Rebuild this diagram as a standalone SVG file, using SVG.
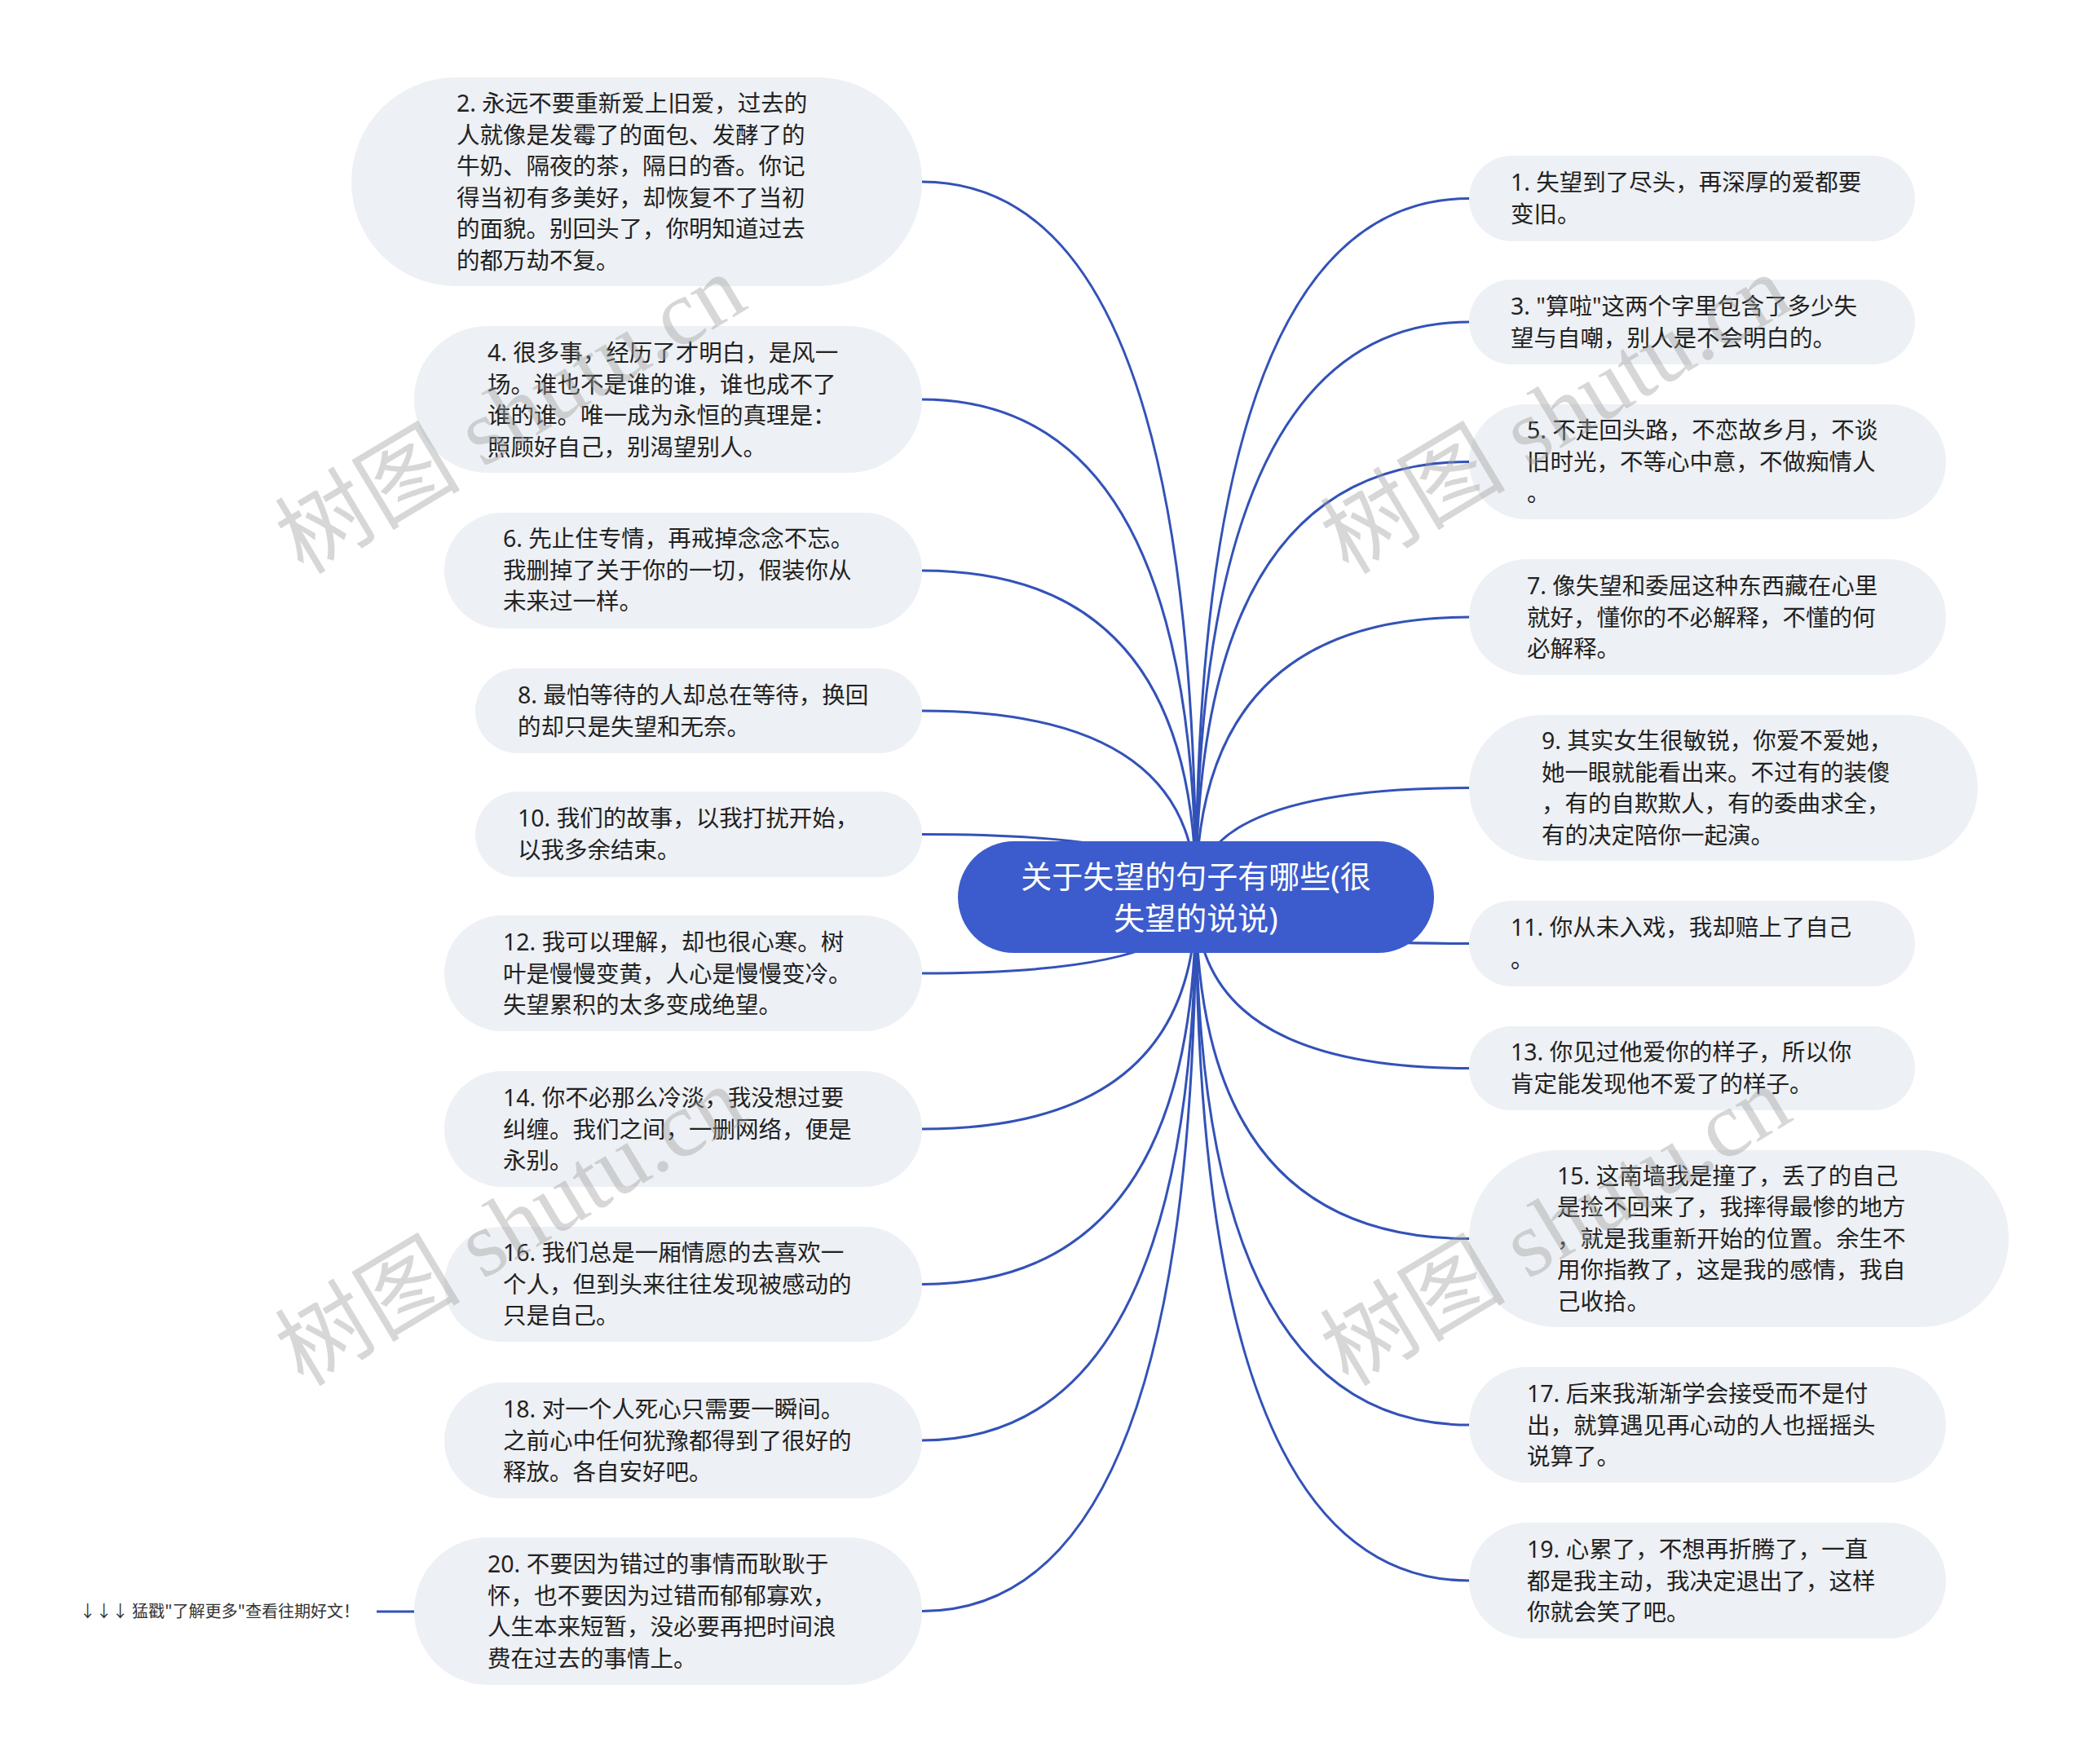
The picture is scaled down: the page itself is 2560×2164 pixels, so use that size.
<svg xmlns="http://www.w3.org/2000/svg" width="2560" height="2164" viewBox="0 0 2560 2164">
<style>
.bg{fill:#ffffff}
.node rect{fill:#edf0f4}
.node text{font-family:"Noto Sans","Noto Sans CJK SC",sans-serif;font-size:28.5px;fill:#222222}
.conn path,.conn line{fill:none;stroke:#3352b8;stroke-width:3}
.root rect{fill:#3c5ccd}
.root text{font-family:"Noto Sans","Noto Sans CJK SC",sans-serif;font-size:38px;fill:#ffffff;text-anchor:middle}
.tip{font-family:"Noto Sans CJK SC",sans-serif;font-size:20px;fill:#333333;text-anchor:end}
.wm{font-family:"Liberation Serif","Noto Sans CJK SC",serif;font-size:114px;fill:#9a9a9a;fill-opacity:0.4}
</style>
<rect class="bg" x="0" y="0" width="2560" height="2164"/>
<g id="connectors" class="conn">
<path d="M1131 223 Q1467 223 1467 1100"/>
<path d="M1131 490 Q1467 490 1467 1100"/>
<path d="M1131 700 Q1467 700 1467 1100"/>
<path d="M1131 872 Q1467 872 1467 1100"/>
<path d="M1131 1023.5 Q1467 1023.5 1467 1100"/>
<path d="M1131 1194 Q1467 1194 1467 1100"/>
<path d="M1131 1385 Q1467 1385 1467 1100"/>
<path d="M1131 1575.5 Q1467 1575.5 1467 1100"/>
<path d="M1131 1767 Q1467 1767 1467 1100"/>
<path d="M1131 1976.5 Q1467 1976.5 1467 1100"/>
<path d="M1802 243.5 Q1467 243.5 1467 1100"/>
<path d="M1802 395 Q1467 395 1467 1100"/>
<path d="M1802 566.5 Q1467 566.5 1467 1100"/>
<path d="M1802 757 Q1467 757 1467 1100"/>
<path d="M1802 966.5 Q1467 966.5 1467 1100"/>
<path d="M1802 1157.5 Q1467 1157.5 1467 1100"/>
<path d="M1802 1310.5 Q1467 1310.5 1467 1100"/>
<path d="M1802 1519.5 Q1467 1519.5 1467 1100"/>
<path d="M1802 1748 Q1467 1748 1467 1100"/>
<path d="M1802 1939 Q1467 1939 1467 1100"/>
<line x1="462" y1="1977" x2="508" y2="1977"/>
</g>
<g id="root" class="root">
<rect x="1175" y="1032" width="584" height="137" rx="68.5"/>
<text x="1467" y="1089">关于失望的句子有哪些(很</text>
<text x="1467" y="1140">失望的说说)</text>
</g>
<g id="n2" class="node"><rect x="431" y="95" width="700" height="256" rx="128"/>
<text x="560" y="137">2. 永远不要重新爱上旧爱，过去的</text>
<text x="560" y="175.5">人就像是发霉了的面包、发酵了的</text>
<text x="560" y="214">牛奶、隔夜的茶，隔日的香。你记</text>
<text x="560" y="252.5">得当初有多美好，却恢复不了当初</text>
<text x="560" y="291">的面貌。别回头了，你明知道过去</text>
<text x="560" y="329.5">的都万劫不复。</text></g>
<g id="n4" class="node"><rect x="508" y="400" width="623" height="180" rx="90"/>
<text x="598" y="443">4. 很多事，经历了才明白，是风一</text>
<text x="598" y="481.5">场。谁也不是谁的谁，谁也成不了</text>
<text x="598" y="520">谁的谁。唯一成为永恒的真理是：</text>
<text x="598" y="558.5">照顾好自己，别渴望别人。</text></g>
<g id="n6" class="node"><rect x="545" y="629" width="586" height="142" rx="71"/>
<text x="617" y="671">6. 先止住专情，再戒掉念念不忘。</text>
<text x="617" y="709.5">我删掉了关于你的一切，假装你从</text>
<text x="617" y="748">未来过一样。</text></g>
<g id="n8" class="node"><rect x="583" y="820" width="548" height="104" rx="52"/>
<text x="635" y="863">8. 最怕等待的人却总在等待，换回</text>
<text x="635" y="901.5">的却只是失望和无奈。</text></g>
<g id="n10" class="node"><rect x="583" y="971" width="548" height="105" rx="52.5"/>
<text x="635" y="1014">10. 我们的故事，以我打扰开始，</text>
<text x="635" y="1052.5">以我多余结束。</text></g>
<g id="n12" class="node"><rect x="545" y="1123" width="586" height="142" rx="71"/>
<text x="617" y="1166">12. 我可以理解，却也很心寒。树</text>
<text x="617" y="1204.5">叶是慢慢变黄，人心是慢慢变冷。</text>
<text x="617" y="1243">失望累积的太多变成绝望。</text></g>
<g id="n14" class="node"><rect x="545" y="1314" width="586" height="142" rx="71"/>
<text x="617" y="1357">14. 你不必那么冷淡，我没想过要</text>
<text x="617" y="1395.5">纠缠。我们之间，一删网络，便是</text>
<text x="617" y="1434">永别。</text></g>
<g id="n16" class="node"><rect x="545" y="1505" width="586" height="141" rx="70.5"/>
<text x="617" y="1547">16. 我们总是一厢情愿的去喜欢一</text>
<text x="617" y="1585.5">个人，但到头来往往发现被感动的</text>
<text x="617" y="1624">只是自己。</text></g>
<g id="n18" class="node"><rect x="545" y="1696" width="586" height="142" rx="71"/>
<text x="617" y="1739">18. 对一个人死心只需要一瞬间。</text>
<text x="617" y="1777.5">之前心中任何犹豫都得到了很好的</text>
<text x="617" y="1816">释放。各自安好吧。</text></g>
<g id="n20" class="node"><rect x="508" y="1886" width="623" height="181" rx="90.5"/>
<text x="598" y="1929">20. 不要因为错过的事情而耿耿于</text>
<text x="598" y="1967.5">怀，也不要因为过错而郁郁寡欢，</text>
<text x="598" y="2006">人生本来短暂，没必要再把时间浪</text>
<text x="598" y="2044.5">费在过去的事情上。</text></g>
<g id="n20tip"><text class="tip" x="441" y="1984">↓↓↓ 猛戳"了解更多"查看往期好文！</text></g>
<g id="n1" class="node"><rect x="1802" y="191" width="547" height="105" rx="52.5"/>
<text x="1853" y="234">1. 失望到了尽头，再深厚的爱都要</text>
<text x="1853" y="272.5">变旧。</text></g>
<g id="n3" class="node"><rect x="1802" y="343" width="547" height="104" rx="52"/>
<text x="1853" y="386">3. "算啦"这两个字里包含了多少失</text>
<text x="1853" y="424.5">望与自嘲，别人是不会明白的。</text></g>
<g id="n5" class="node"><rect x="1802" y="496" width="585" height="141" rx="70.5"/>
<text x="1873" y="538">5. 不走回头路，不恋故乡月，不谈</text>
<text x="1873" y="576.5">旧时光，不等心中意，不做痴情人</text>
<text x="1873" y="615">。</text></g>
<g id="n7" class="node"><rect x="1802" y="686" width="585" height="142" rx="71"/>
<text x="1873" y="729">7. 像失望和委屈这种东西藏在心里</text>
<text x="1873" y="767.5">就好，懂你的不必解释，不懂的何</text>
<text x="1873" y="806">必解释。</text></g>
<g id="n9" class="node"><rect x="1802" y="877" width="624" height="179" rx="89.5"/>
<text x="1891" y="919">9. 其实女生很敏锐，你爱不爱她，</text>
<text x="1891" y="957.5">她一眼就能看出来。不过有的装傻</text>
<text x="1891" y="996">，有的自欺欺人，有的委曲求全，</text>
<text x="1891" y="1034.5">有的决定陪你一起演。</text></g>
<g id="n11" class="node"><rect x="1802" y="1105" width="547" height="105" rx="52.5"/>
<text x="1853" y="1148">11. 你从未入戏，我却赔上了自己</text>
<text x="1853" y="1186.5">。</text></g>
<g id="n13" class="node"><rect x="1802" y="1259" width="547" height="103" rx="51.5"/>
<text x="1853" y="1301">13. 你见过他爱你的样子，所以你</text>
<text x="1853" y="1339.5">肯定能发现他不爱了的样子。</text></g>
<g id="n15" class="node"><rect x="1802" y="1411" width="662" height="217" rx="108.5"/>
<text x="1910" y="1452.5">15. 这南墙我是撞了，丢了的自己</text>
<text x="1910" y="1491">是捡不回来了，我摔得最惨的地方</text>
<text x="1910" y="1529.5">，就是我重新开始的位置。余生不</text>
<text x="1910" y="1568">用你指教了，这是我的感情，我自</text>
<text x="1910" y="1606.5">己收拾。</text></g>
<g id="n17" class="node"><rect x="1802" y="1677" width="585" height="142" rx="71"/>
<text x="1873" y="1720">17. 后来我渐渐学会接受而不是付</text>
<text x="1873" y="1758.5">出，就算遇见再心动的人也摇摇头</text>
<text x="1873" y="1797">说算了。</text></g>
<g id="n19" class="node"><rect x="1802" y="1868" width="585" height="142" rx="71"/>
<text x="1873" y="1911">19. 心累了，不想再折腾了，一直</text>
<text x="1873" y="1949.5">都是我主动，我决定退出了，这样</text>
<text x="1873" y="1988">你就会笑了吧。</text></g>
<g id="watermarks">
<text class="wm" x="372" y="706" transform="rotate(-31 372 706)">树图 shutu.cn</text>
<text class="wm" x="1654" y="706" transform="rotate(-31 1654 706)">树图 shutu.cn</text>
<text class="wm" x="372" y="1702" transform="rotate(-31 372 1702)">树图 shutu.cn</text>
<text class="wm" x="1654" y="1702" transform="rotate(-31 1654 1702)">树图 shutu.cn</text>
</g>
</svg>
